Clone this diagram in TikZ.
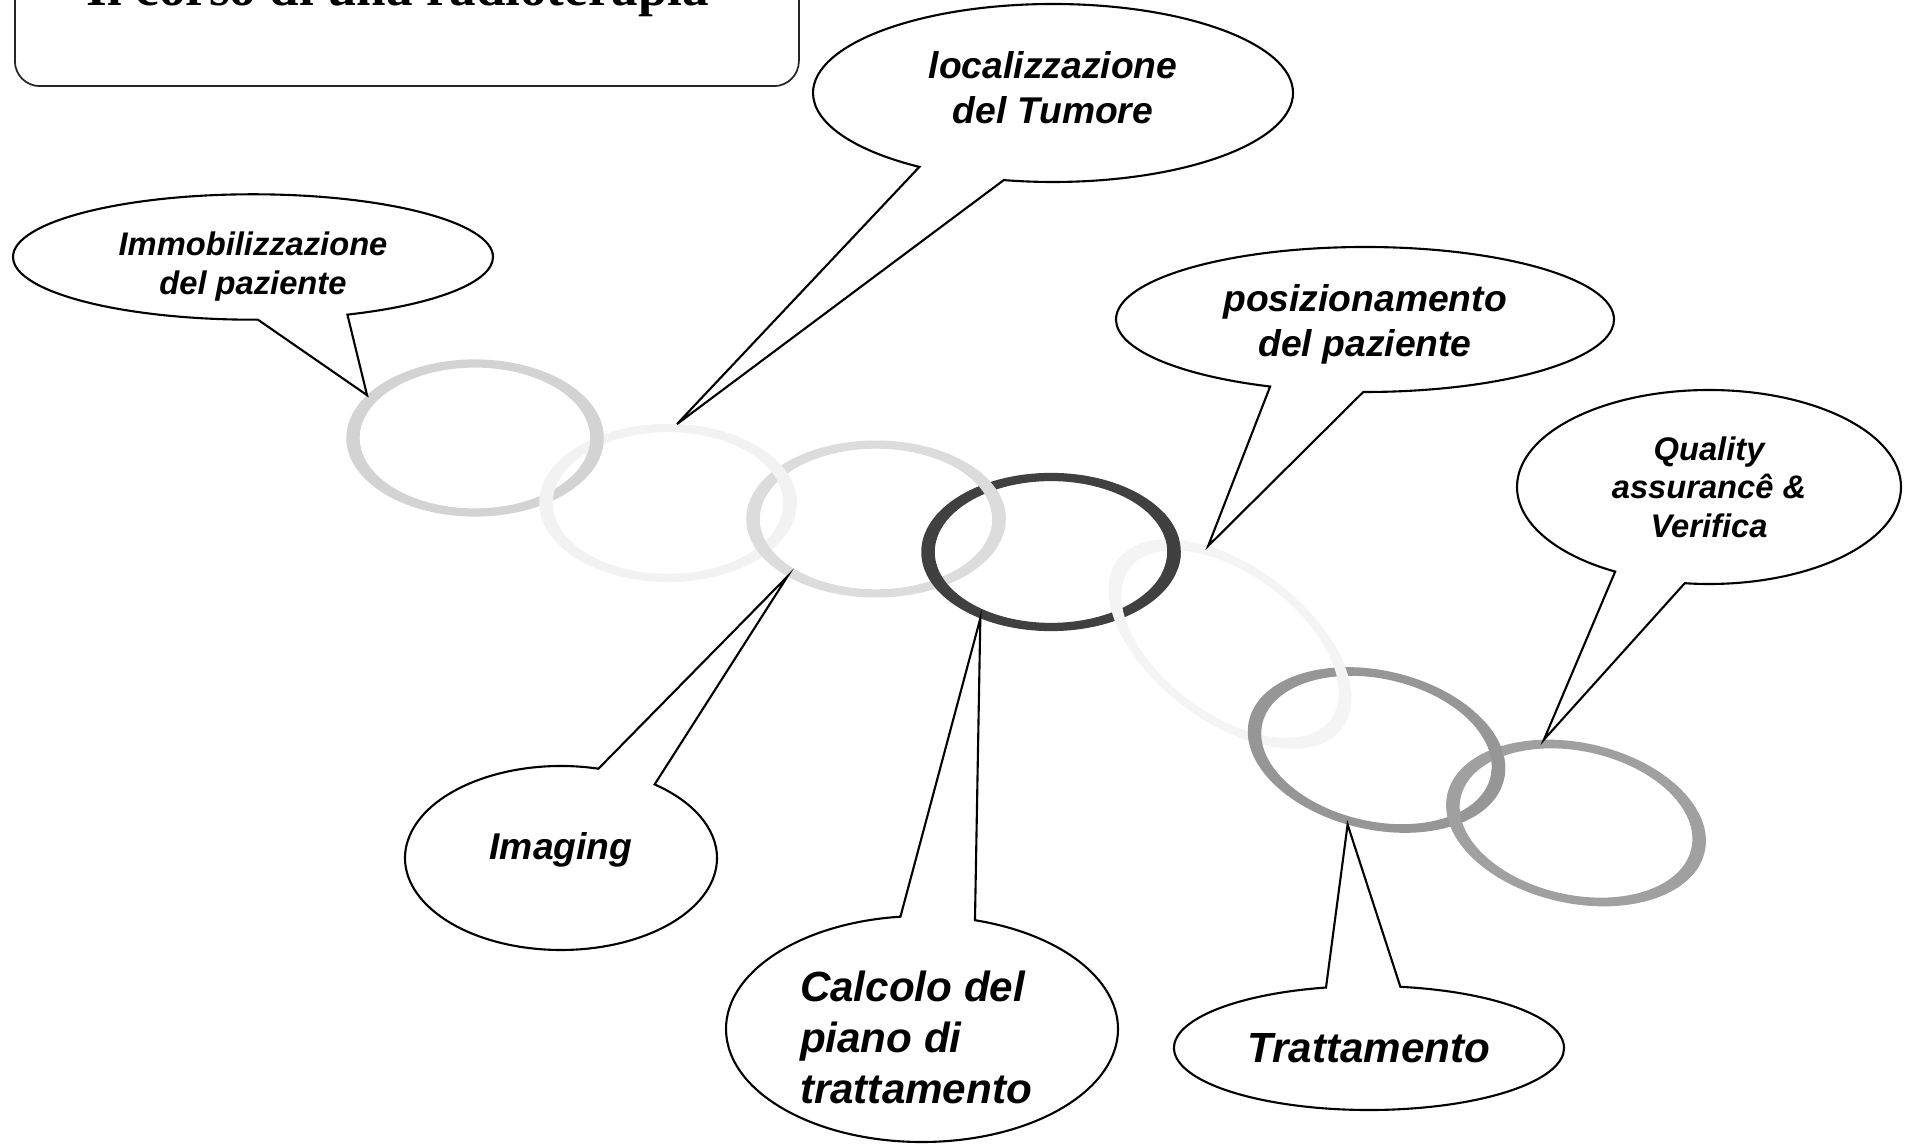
\documentclass[tikz,border=0pt]{standalone}
\usepackage{fontspec}
\setmainfont{Liberation Serif}
\setsansfont{Liberation Sans}
\usepackage{tikz}
\usetikzlibrary{shapes.geometric, shapes.callouts}

\definecolor{ringA}{HTML}{D3D3D3}
\definecolor{ringB}{HTML}{F2F2F2}
\definecolor{ringC}{HTML}{DCDCDC}
\definecolor{ringD}{HTML}{404040}
\definecolor{ringE}{HTML}{F4F4F4}
\definecolor{ringF}{HTML}{969696}
\definecolor{ringG}{HTML}{A0A0A0}

% name/x/y/angle/x radius/y radius/colour/point where it lies over the next ring
\newcommand{\ringlist}{%
r1/4.75/7.05/0/1.22/0.745/ringA/5.97/6.99,%
r2/6.68/6.40/0/1.22/0.75/ringB/7.85/6.68,%
r3/8.76/6.24/0/1.23/0.744/ringC/9.90/6.54,%
r4/10.51/5.91/0/1.23/0.75/ringD/11.63/6.00,%
r5/12.30/4.99/-37/1.33/0.735/ringE/13.43/4.71,%
r6/13.765/3.93/-13/1.24/0.753/ringF/14.98/3.95,%
r7/15.76/3.20/-12.5/1.25/0.76/ringG/-1/-1}

\begin{document}
\begin{tikzpicture}[
  link/.style={even odd rule},
  ringnode/.style={circle, minimum size=2.11cm, inner sep=0pt, outer sep=0pt, transform shape},
  bubble/.style={ellipse callout, draw, fill=white, line width=0.6pt, inner sep=0pt,
    align=center, callout pointer arc=22},
  smallbub/.style={bubble, font=\sffamily\bfseries\itshape\fontsize{9.3}{11}\selectfont},
  midbub/.style={bubble, font=\sffamily\bfseries\itshape\fontsize{10.6}{12.8}\selectfont},
  bigbub/.style={bubble, font=\sffamily\bfseries\itshape\fontsize{12}{14.5}\selectfont},
]
\useasboundingbox (0,0) rectangle (19.09,11.43);

% title
\node[draw=black!85, line width=0.5pt, rounded corners=0.25cm, minimum width=7.84cm,
  minimum height=1.6cm, anchor=south west] (titlebox) at (0.14,10.56) {};
\node[font=\bfseries\fontsize{15.1}{18}\selectfont, anchor=base] (title) at (3.98,11.375)
  {Il corso di una radioterapia};

% chain of rings
\foreach \n/\x/\y/\a/\rx/\ry/\c/\ox/\oy in \ringlist {
  \begin{scope}[shift={(\x,\y)}, rotate=\a, xscale=\rx, yscale=\ry]
    \fill[link, \c] (0,0) circle (1.055) (0,0) circle (0.945);
    \node[ringnode] (\n) at (0,0) {};
  \end{scope}
}
% each ring passes over the next one at the top
\foreach \n/\x/\y/\a/\rx/\ry/\c/\ox/\oy in \ringlist {
  \begin{scope}
    \clip (\ox,\oy) circle (0.3);
    \fill[link, \c, shift={(\x,\y)}, rotate=\a, xscale=\rx, yscale=\ry]
      (0,0) circle (1.055) (0,0) circle (0.945);
  \end{scope}
}

% callouts
\node[smallbub, minimum width=4.80cm, minimum height=1.14cm,
  callout absolute pointer={(r1.147)}] (immob) at (2.53,8.86)
  {\rule{0pt}{12.3pt}Immobilizzazione\\del paziente};
\node[midbub, minimum width=4.80cm, minimum height=1.78cm,
  callout absolute pointer={(r2.86)}] (tumore) at (10.53,10.50)
  {localizzazione\\del Tumore\rule[-3.4pt]{0pt}{3.4pt}};
\node[midbub, minimum width=3.12cm, minimum height=1.84cm, callout pointer arc=23,
  callout absolute pointer={(r3.227)}] (imaging) at (5.61,2.85)
  {Imaging\rule[-7pt]{0pt}{7pt}};
\node[bigbub, align=left, minimum width=3.92cm, minimum height=2.26cm,
  callout absolute pointer={(r4.237)}] (piano) at (9.22,1.14)
  {\rule{0pt}{13.6pt}Calcolo del\\piano di\\trattamento\hspace*{0.12cm}};
\node[midbub, minimum width=4.98cm, minimum height=1.45cm,
  callout absolute pointer={(r5.123)}] (posiz) at (13.65,8.235)
  {\rule{0pt}{10.6pt}posizionamento\\del paziente};
\node[smallbub, minimum width=3.84cm, minimum height=1.94cm,
  callout absolute pointer={(r7.112)}] (quality) at (17.09,6.56)
  {Quality\\assuranc\^e \&\\Verifica};
\node[bigbub, minimum width=3.90cm, minimum height=1.24cm,
  callout absolute pointer={(r6.265)}] (tratt) at (13.69,0.95) {Trattamento};
\end{tikzpicture}
\end{document}
